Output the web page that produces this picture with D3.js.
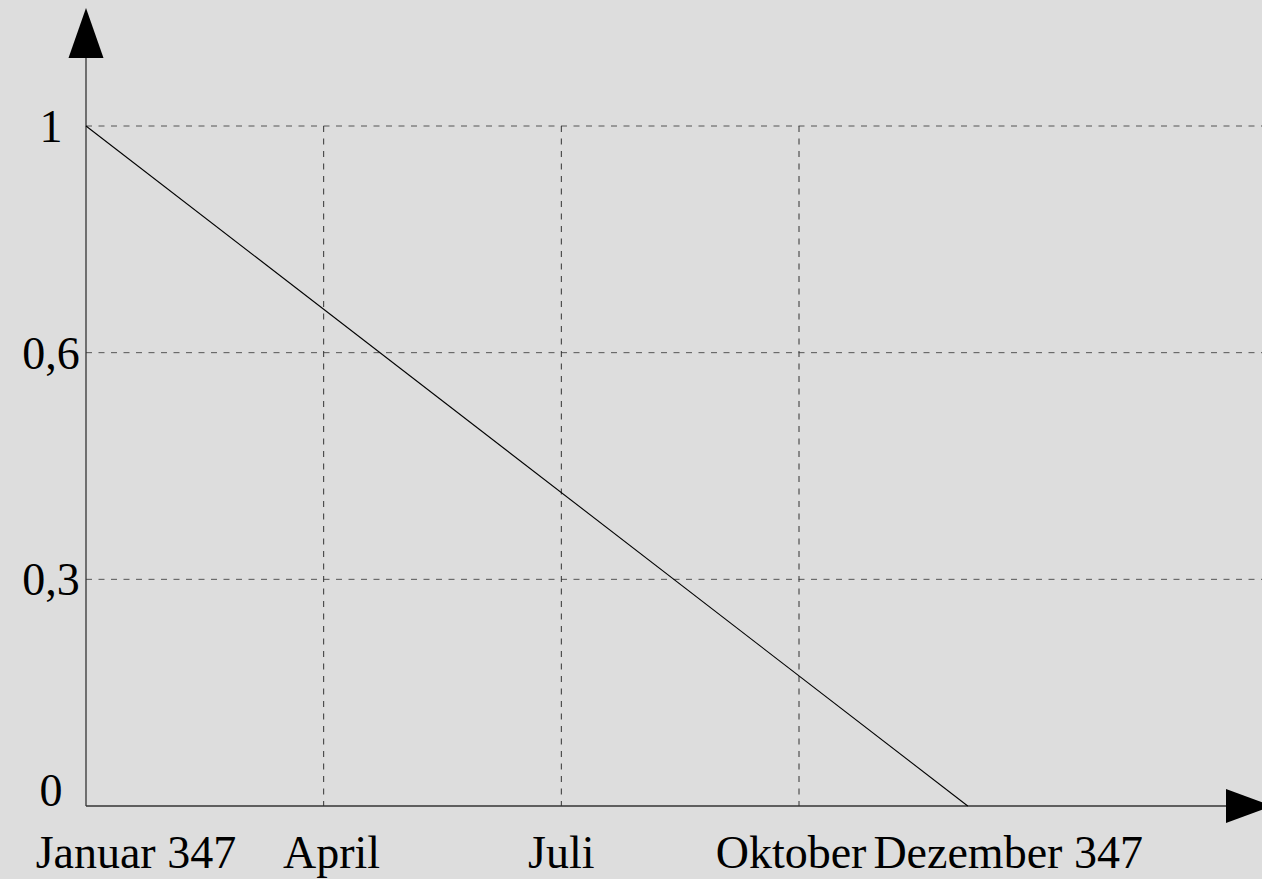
<!DOCTYPE html>
<html>
<head>
<meta charset="utf-8">
<script src="https://cdn.jsdelivr.net/npm/d3@7"></script>
<style>
  body { margin: 0; background: #dddddd; }
</style>
</head>
<body>
<script>
// Daten (Monate ab Januar 347, 0 = Januar)
var lineMonths = [0, 11.13];
var lineValues = [1, 0];

var xGridMonths = [3, 6, 9];
var xLabels = ["Januar 347", "April", "Juli", "Oktober", "Dezember 347"];
var xLabelMonths = [0.63, 3.1, 6, 8.9, 11.64];

var yTickValues = [0, 1/3, 2/3, 1];
var yTickLabels = ["0", "0,3", "0,6", "1"];

var larg = 1262, haut = 879;
var police = "'Liberation Serif', 'Times New Roman', Times, 'DejaVu Serif', serif";

var svg = d3.select("body")
  .append("svg")
  .attr("width", larg)
  .attr("height", haut);

var x = d3.scaleLinear().domain([0, 9]).range([86, 799]);
var y = d3.scaleLinear().domain([0, 1]).range([806, 126]);

// Gitterlinien horizontal
svg.selectAll("line.hgrid")
  .data(yTickValues.filter(function(d) { return d > 0; }))
  .enter()
  .append("line")
  .attr("class", "hgrid")
  .attr("x1", x(0))
  .attr("x2", larg)
  .attr("y1", function(d) { return y(d); })
  .attr("y2", function(d) { return y(d); })
  .attr("stroke", "#555")
  .attr("stroke-width", 1)
  .attr("stroke-dasharray", "6,6.5");

// Gitterlinien vertikal
svg.selectAll("line.vgrid")
  .data(xGridMonths)
  .enter()
  .append("line")
  .attr("class", "vgrid")
  .attr("x1", function(d) { return x(d); })
  .attr("x2", function(d) { return x(d); })
  .attr("y1", y(1))
  .attr("y2", y(0))
  .attr("stroke", "#333")
  .attr("stroke-width", 1)
  .attr("stroke-dasharray", "6,6.5");

// Achsen
svg.append("line")
  .attr("x1", x(0)).attr("x2", 1228)
  .attr("y1", y(0)).attr("y2", y(0))
  .attr("stroke", "#333").attr("stroke-width", 1.3);
svg.append("line")
  .attr("x1", x(0)).attr("x2", x(0))
  .attr("y1", y(0)).attr("y2", 58)
  .attr("stroke", "#333").attr("stroke-width", 1.3);

// Pfeile
svg.append("path")
  .attr("d", "M" + x(0) + ",8 L" + (x(0) + 17.5) + ",58 L" + (x(0) - 17.5) + ",58 Z")
  .attr("fill", "#000");
svg.append("path")
  .attr("d", "M1226," + (y(0) - 17) + " L1272," + y(0) + " L1226," + (y(0) + 17) + " Z")
  .attr("fill", "#000");

// Linie
var pts = lineMonths.map(function(m, i) { return [m, lineValues[i]]; });
svg.append("path")
  .datum(pts)
  .attr("d", d3.line()
    .x(function(d) { return x(d[0]); })
    .y(function(d) { return y(d[1]); }))
  .attr("fill", "none")
  .attr("stroke", "#000")
  .attr("stroke-width", 1.1);

// Y-Beschriftung
svg.selectAll("text.ylab")
  .data(yTickValues)
  .enter()
  .append("text")
  .attr("class", "ylab")
  .attr("x", 51)
  .attr("y", function(d) { return d === 0 ? y(d) : y(d) + 16; })
  .attr("text-anchor", "middle")
  .style("font-family", police)
  .style("font-size", "46px")
  .text(function(d, i) { return yTickLabels[i]; });

// X-Beschriftung
svg.selectAll("text.xlab")
  .data(xLabels)
  .enter()
  .append("text")
  .attr("class", "xlab")
  .attr("x", function(d, i) { return x(xLabelMonths[i]); })
  .attr("y", 868)
  .attr("text-anchor", "middle")
  .style("font-family", police)
  .style("font-size", "46px")
  .text(function(d) { return d; });
</script>
</body>
</html>
